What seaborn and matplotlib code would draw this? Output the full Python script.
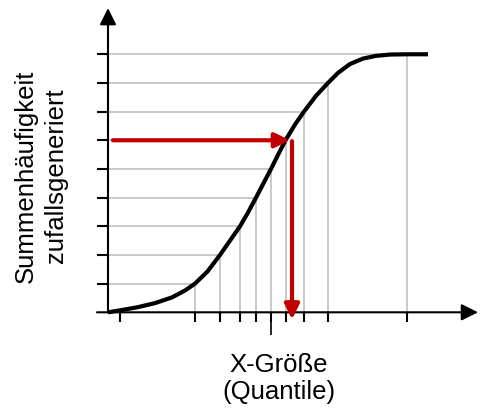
import numpy as np
import matplotlib
matplotlib.use("Agg")
import matplotlib.pyplot as plt
import seaborn as sns

# cumulative curve (x in arbitrary units, y in grid levels)
curve_x = [0.0, 1.4, 3.0, 4.7, 6.4, 7.7, 8.7, 9.95, 11.2, 12.2, 13.2, 14.0,
           14.8, 15.55, 16.3, 17.0, 17.75, 18.7, 19.6, 20.8, 22.0, 23.0, 24.2,
           25.5, 26.8, 28.2, 29.9, 32.0]
curve_y = [0.0, 0.08, 0.18, 0.32, 0.52, 0.76, 1.0, 1.425, 2.0, 2.5, 3.0, 3.48,
           4.0, 4.5, 5.0, 5.49, 6.0, 6.55, 7.0, 7.55, 8.0, 8.35, 8.66,
           8.85, 8.945, 8.99, 9.0, 9.0]

# grid levels and where the curve crosses them
levels = [1, 2, 3, 4, 5, 6, 7, 8, 9]
crossings = [8.7, 11.2, 13.2, 14.8, 16.3, 17.75, 19.6, 22.0, 29.9]
extra_tick = [1.2]
quantile_tick = 16.3

# drawn value (random level) and the resulting quantile
pick_level = 6
pick_x = 18.4

x_label = "X-Größe\n(Quantile)"
y_label = "Summenhäufigkeit\nzufallsgeneriert"

sns.set_style("white")
plt.rcParams['font.family'] = ['Liberation Sans', 'DejaVu Sans']

grey = "#c0c0c0"
red = "#c00000"

fig = plt.figure(figsize=(4.8, 4.09), dpi=100)
ax = fig.add_axes([0, 0, 1, 1])
ax.set_xlim(-10.8, 37.2)
ax.set_ylim(-3.373, 10.893)
ax.axis("off")

# grey help lines
ax.hlines(levels, 0, crossings, color=grey, lw=1.2, zorder=1)
ax.vlines(crossings, 0, levels, color=grey, lw=1.2, zorder=1)

# curve
sns.lineplot(x=curve_x, y=curve_y, sort=False, color="black", linewidth=3,
             ax=ax, zorder=3, solid_joinstyle="round", solid_capstyle="butt")

# axes with arrow heads
axis_arrow = dict(arrowstyle="-|>,head_length=0.5,head_width=0.25",
                  mutation_scale=20, color="black", lw=1.5,
                  shrinkA=0, shrinkB=0)
ax.annotate("", xy=(0, 10.61), xytext=(0, 0), arrowprops=axis_arrow)
ax.annotate("", xy=(37.0, 0), xytext=(-1.1, 0), arrowprops=axis_arrow)

# ticks
ax.hlines(levels, -1.1, 0, color="black", lw=1.5)
ax.vlines(extra_tick + crossings, -0.35, 0, color="black", lw=1.5)
ax.vlines([quantile_tick], -0.8, 0, color="black", lw=1.2)

# red arrows
red_arrow = dict(arrowstyle="-|>,head_length=0.45,head_width=0.22",
                 mutation_scale=20, color=red, lw=3,
                 shrinkA=0, shrinkB=0)
ax.annotate("", xy=(18.2, pick_level), xytext=(0.5, pick_level),
            arrowprops=red_arrow, zorder=4)
ax.annotate("", xy=(pick_x, -0.25), xytext=(pick_x, pick_level - 0.03),
            arrowprops=red_arrow, zorder=4)

# labels
ax.text(17.1, -2.3, x_label, ha="center", va="center", fontsize=18.5,
        linespacing=1.15, color="black")
ax.text(-6.7, 4.75, y_label, ha="center", va="center", rotation=90,
        fontsize=18.5, linespacing=1.3, color="black")

fig.savefig("out.png", dpi=100)
